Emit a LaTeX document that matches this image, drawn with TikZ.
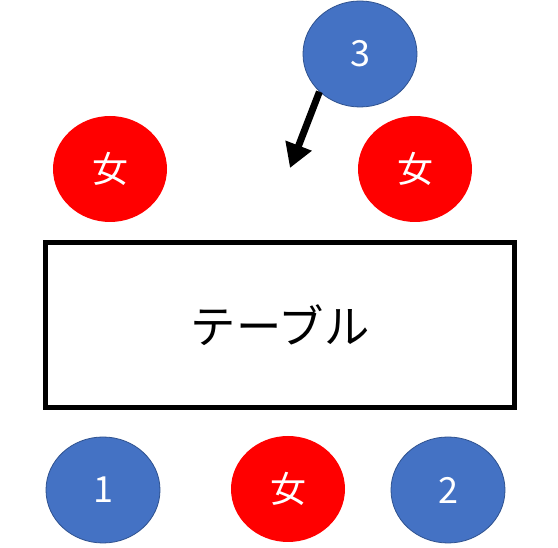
\documentclass[tikz,border=0pt]{standalone}
\usepackage{fontspec}
\usepackage{tikz}
\usepackage{xcolor}
\usetikzlibrary{shapes.geometric,arrows.meta}
\newfontfamily\jpfont{Noto Sans CJK JP}
\definecolor{seatblue}{HTML}{4472C4}
\definecolor{seatedge}{HTML}{2F528F}

\begin{document}
\begin{tikzpicture}[x=0.75pt,y=-0.75pt,
    seat/.style={ellipse,minimum width=85.5pt,minimum height=79.5pt,inner sep=0pt,
        text=white,font=\jpfont\fontsize{27}{27}\selectfont},
    man/.style={seat,fill=seatblue,draw=seatedge,line width=0.6pt},
    woman/.style={seat,fill=red}]
    \useasboundingbox (0,0) rectangle (558,548);
    % table
    \node (table) [draw,line width=4pt,minimum width=351.75pt,minimum height=123.75pt,
        font=\jpfont\fontsize{34}{34}\selectfont] at (280,325) {テーブル};
    % seats
    \node (womanA) [woman] at (110,169) {女};
    \node (womanB) [woman] at (415,169) {女};
    \node (womanC) [woman] at (288,489) {女};
    \node (one) [man] at (103,490) {1};
    \node (two) [man] at (448,490) {2};
    \node (three) [man] at (360,54) {3};
    % move
    \coordinate (gap) at (290,168);
    \draw [-{Triangle[length=18pt,width=20pt]},line width=5.2pt] (three.south west) -- (gap);
\end{tikzpicture}
\end{document}
